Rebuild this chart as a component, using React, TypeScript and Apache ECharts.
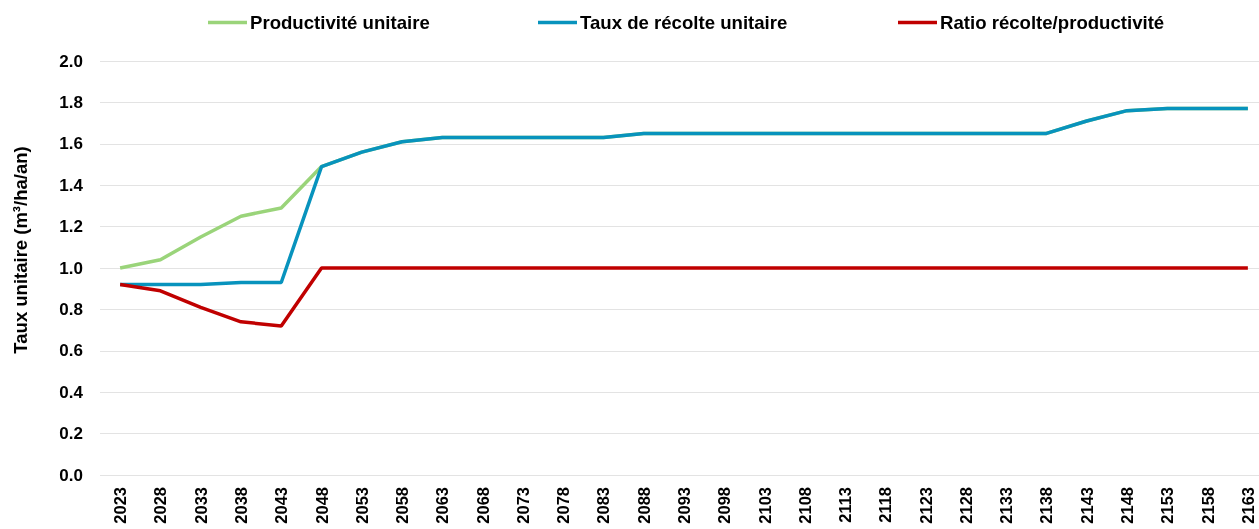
import React, { useEffect, useRef } from "react";
import * as echarts from "echarts";

const years: string[] = [];
for (let y = 2023; y <= 2163; y += 5) years.push(String(y));

const productivite = [1.0, 1.04, 1.15, 1.25, 1.29, 1.49, 1.56, 1.61, 1.63, 1.63, 1.63, 1.63, 1.63, 1.65, 1.65, 1.65, 1.65, 1.65, 1.65, 1.65, 1.65, 1.65, 1.65, 1.65, 1.71, 1.76, 1.77, 1.77, 1.77];
const recolte = [0.92, 0.92, 0.92, 0.93, 0.93, 1.49, 1.56, 1.61, 1.63, 1.63, 1.63, 1.63, 1.63, 1.65, 1.65, 1.65, 1.65, 1.65, 1.65, 1.65, 1.65, 1.65, 1.65, 1.65, 1.71, 1.76, 1.77, 1.77, 1.77];
const ratio = [0.92, 0.89, 0.81, 0.74, 0.72, 1.0, 1.0, 1.0, 1.0, 1.0, 1.0, 1.0, 1.0, 1.0, 1.0, 1.0, 1.0, 1.0, 1.0, 1.0, 1.0, 1.0, 1.0, 1.0, 1.0, 1.0, 1.0, 1.0, 1.0];

const names = ["Productivité unitaire", "Taux de récolte unitaire", "Ratio récolte/productivité"];
const yAxisTitle = "Taux unitaire (m³/ha/an)";
const colors = ["#9AD47A", "#0893BD", "#C00000"];
const legendLeft = [208, 538, 898];

export default function App() {
  const ref = useRef<HTMLDivElement>(null);
  useEffect(() => {
    const chart = echarts.init(ref.current!, null, { renderer: "svg" });
    const font = "Liberation Sans, Arial, sans-serif";
    chart.setOption({
      animation: false,
      textStyle: { fontFamily: font },
      legend: names.map((n, i) => ({
        data: [n],
        left: legendLeft[i],
        top: 13,
        padding: 0,
        itemWidth: 39,
        itemHeight: 3.5,
        itemGap: 3,
        icon: "rect",
        textStyle: { fontFamily: font, fontWeight: "bold", fontSize: 18.6, color: "#000", padding: [0, 0, 0, -2] },
      })),
      graphic: [
        {
          type: "text",
          x: 20,
          y: 250,
          rotation: Math.PI / 2,
          style: {
            text: yAxisTitle,
            fill: "#000",
            font: `bold 18.5px ${font}`,
            align: "center",
            verticalAlign: "middle",
          },
        },
      ],
      grid: { left: 100, width: 1168, top: 61, bottom: 54, containLabel: false, outerBoundsMode: "none" },
      xAxis: {
        type: "category",
        data: years,
        boundaryGap: true,
        axisLine: { show: false },
        axisTick: { show: false },
        axisLabel: { rotate: 90, fontWeight: "bold", fontSize: 16.5, lineHeight: 13, color: "#000", fontFamily: font, margin: 12, interval: 0 },
      },
      yAxis: {
        type: "value",
        min: 0,
        max: 2,
        interval: 0.2,
        axisLabel: { formatter: (v: number) => v.toFixed(1), fontWeight: "bold", fontSize: 17, color: "#000", fontFamily: font, margin: 17 },
        splitLine: { lineStyle: { color: "#E3E3E3", width: 1 } },
        axisLine: { show: false },
        axisTick: { show: false },
      },
      series: [productivite, recolte, ratio].map((d, i) => ({
        name: names[i],
        type: "line",
        data: d,
        showSymbol: false,
        symbol: "none",
        lineStyle: { color: colors[i], width: 3.5 },
        itemStyle: { color: colors[i] },
      })),
    });
    return () => chart.dispose();
  }, []);
  return <div ref={ref} style={{ position: "fixed", left: 0, top: 0, width: 1259, height: 529, overflow: "hidden" }} />;
}
